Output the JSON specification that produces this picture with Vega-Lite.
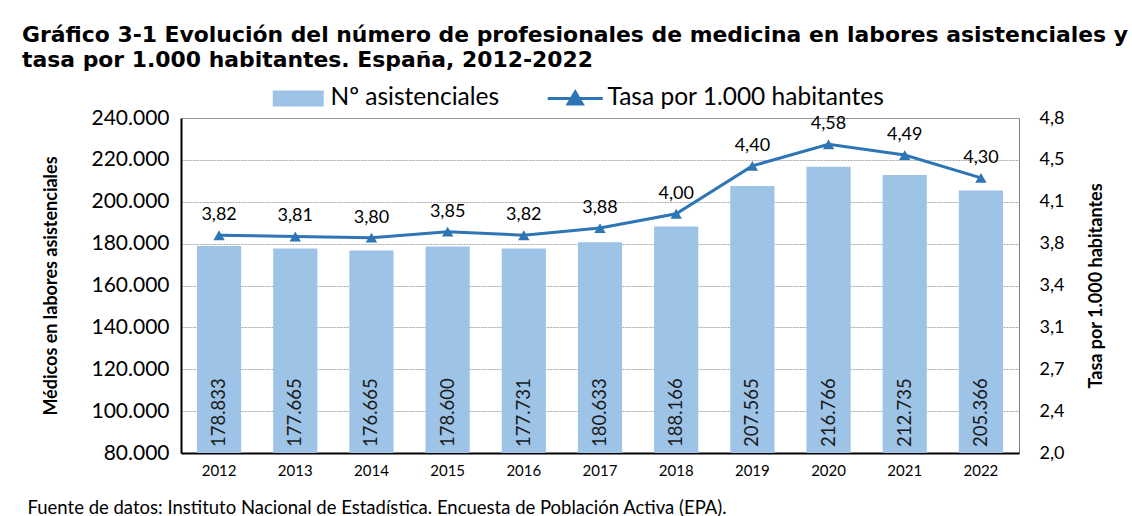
{
  "$schema": "https://vega.github.io/schema/vega-lite/v6.json",
  "width": 838,
  "height": 335,
  "autosize": "none",
  "padding": {"left": 181, "top": 118, "right": 113, "bottom": 63},
  "background": "white",
  "config": {
    "locale": {"number": {"decimal": ",", "thousands": ".", "grouping": [3], "currency": ["", " €"]}},
    "font": "Lato",
    "view": {"stroke": "#7F7F7F", "strokeWidth": 1},
    "axis": {"labelFont": "Lato", "titleFont": "Lato", "labelColor": "#000000", "titleColor": "#000000"}
  },
  "title": {
    "text": ["Gráfico 3-1 Evolución del número de profesionales de medicina en labores asistenciales y", "tasa por 1.000 habitantes. España, 2012-2022"],
    "anchor": "start",
    "frame": "group",
    "dx": -159,
    "font": "DejaVu Sans",
    "fontWeight": "bold",
    "fontSize": 21.9,
    "lineHeight": 25,
    "color": "#000000",
    "offset": 14
  },
  "data": {
    "values": [
      {"year": "2012", "n": 178833, "tasa": 3.82},
      {"year": "2013", "n": 177665, "tasa": 3.81},
      {"year": "2014", "n": 176665, "tasa": 3.80},
      {"year": "2015", "n": 178600, "tasa": 3.85},
      {"year": "2016", "n": 177731, "tasa": 3.82},
      {"year": "2017", "n": 180633, "tasa": 3.88},
      {"year": "2018", "n": 188166, "tasa": 4.00},
      {"year": "2019", "n": 207565, "tasa": 4.40},
      {"year": "2020", "n": 216766, "tasa": 4.58},
      {"year": "2021", "n": 212735, "tasa": 4.49},
      {"year": "2022", "n": 205366, "tasa": 4.30}
    ]
  },
  "layer": [
    {
      "layer": [
        {
          "mark": {"type": "bar"},
          "encoding": {
            "x": {
              "field": "year", "type": "ordinal",
              "scale": {"paddingInner": 0.42, "paddingOuter": 0.21},
              "axis": {
                "labelAngle": 0, "labelFontSize": 15, "labelPadding": 10, "ticks": false,
                "domainColor": "#000000", "domainWidth": 2,
                "title": "Fuente de datos: Instituto Nacional de Estadística. Encuesta de Población Activa (EPA).",
                "titleFontSize": 18.5, "titleFontWeight": "normal",
                "titleAnchor": "start", "titleAlign": "left", "titleX": -154, "titleY": 45
              }
            },
            "y": {
              "field": "n", "type": "quantitative",
              "scale": {"domain": [80000, 240000], "nice": false, "zero": false},
              "axis": {
                "values": [80000, 100000, 120000, 140000, 160000, 180000, 200000, 220000, 240000],
                "format": ",.0f", "labelFontSize": 21, "labelPadding": 12, "ticks": false,
                "domainColor": "#000000", "domainWidth": 2,
                "grid": true, "gridColor": "#A6A6A6", "gridDash": [2, 1], "gridWidth": 1,
                "title": "Médicos en labores asistenciales", "titleFontSize": 18, "titleFontWeight": "bold", "titlePadding": 30
              }
            },
            "y2": {"datum": 80000},
            "color": {
              "datum": "Nº asistenciales",
              "type": "nominal",
              "scale": {"domain": ["Nº asistenciales", "Tasa por 1.000 habitantes"], "range": ["#9DC3E6", "#2E75B6"]},
              "legend": {
                "title": null, "orient": "none", "direction": "horizontal",
                "legendX": 105, "legendY": -32,
                "labelFontSize": 24.5, "labelFont": "Lato", "labelColor": "#000000", "labelLimit": 500,
                "symbolSize": 400, "labelOffset": 20, "columnPadding": 41,
                "encode": {
                  "symbols": {
                    "update": {
                      "shape": {"signal": "datum.value === 'Nº asistenciales' ? 'M-2.55,-0.8H2.55V0.8H-2.55Z' : 'M-2.75,0H2.75M-0.7,0.55L0,-0.65L0.7,0.55Z'"},
                      "fill": {"signal": "datum.value === 'Nº asistenciales' ? '#9DC3E6' : '#2E75B6'"},
                      "stroke": {"signal": "datum.value === 'Nº asistenciales' ? '#9DC3E6' : '#2E75B6'"},
                      "strokeWidth": {"signal": "datum.value === 'Nº asistenciales' ? 0 : 3"},
                      "opacity": {"value": 1},
                      "fillOpacity": {"value": 1},
                      "size": {"value": 400}
                    }
                  }
                }
              }
            }
          }
        },
        {
          "mark": {"type": "text", "angle": 270, "align": "left", "baseline": "middle", "dx": 6, "fontSize": 18.5, "font": "Lato", "color": "#1A1A1A"},
          "encoding": {
            "x": {"field": "year", "type": "ordinal"},
            "y": {"datum": 80000, "type": "quantitative"},
            "text": {"field": "n", "type": "quantitative", "format": ",.0f"}
          }
        }
      ]
    },
    {
      "layer": [
        {
          "mark": {"type": "line", "strokeWidth": 3},
          "encoding": {
            "x": {"field": "year", "type": "ordinal"},
            "y": {
              "field": "tasa", "type": "quantitative",
              "scale": {"domain": [2.0, 4.8], "nice": false, "zero": false},
              "axis": {
                "orient": "right",
                "values": [2.0, 2.35, 2.7, 3.05, 3.4, 3.75, 4.1, 4.45, 4.8],
                "labelExpr": "replace(format(datum.value + 0.0001, '.1f'), '.', ',')",
                "labelFontSize": 18, "labelPadding": 20, "ticks": false, "domain": false, "grid": false,
                "title": "Tasa por 1.000 habitantes", "titleFontSize": 18, "titleFontWeight": "bold", "titlePadding": 42, "titleAngle": 270
              }
            },
            "color": {"datum": "Tasa por 1.000 habitantes", "type": "nominal"}
          }
        },
        {
          "mark": {"type": "point", "shape": "triangle-up", "filled": true, "size": 130, "color": "#2E75B6", "opacity": 1},
          "encoding": {
            "x": {"field": "year", "type": "ordinal"},
            "y": {"field": "tasa", "type": "quantitative"}
          }
        },
        {
          "mark": {"type": "text", "dy": -20, "fontSize": 18, "font": "Lato", "color": "#000000"},
          "encoding": {
            "x": {"field": "year", "type": "ordinal"},
            "y": {"field": "tasa", "type": "quantitative"},
            "text": {"field": "tasa", "type": "quantitative", "format": ".2f"}
          }
        }
      ]
    }
  ],
  "resolve": {"scale": {"y": "independent"}}
}
